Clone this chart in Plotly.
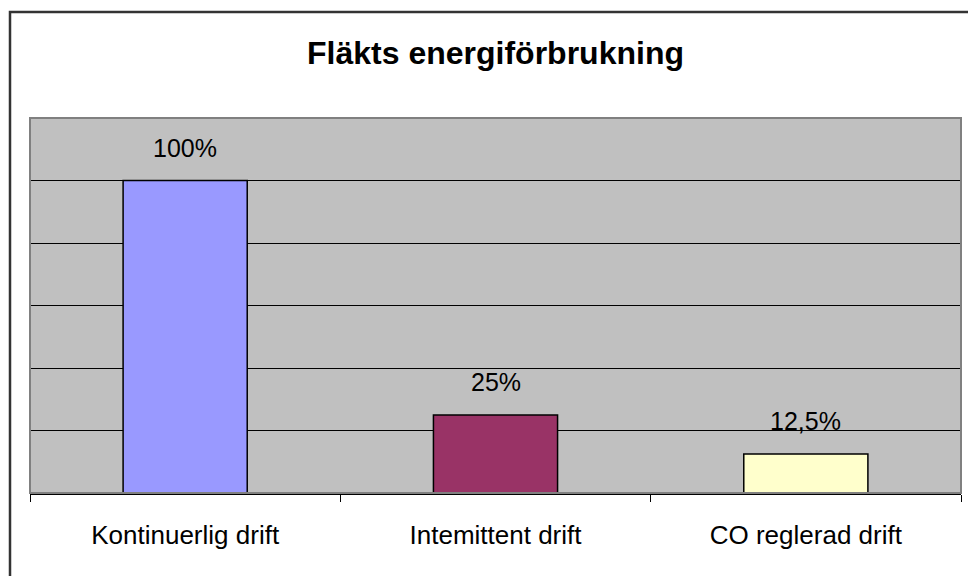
import plotly.graph_objects as go

categories = ["Kontinuerlig drift", "Intemittent drift", "CO reglerad drift"]
values = [100, 25, 12.5]
value_labels = ["100%", "25%", "12,5%"]
bar_colors = ["#9999FF", "#993366", "#FFFFCC"]
title_text = "Fläkts energiförbrukning"

FONT = "Liberation Sans, Arial, sans-serif"

fig = go.Figure()
fig.add_trace(go.Bar(
    x=categories, y=values,
    marker=dict(color=bar_colors, line=dict(color="black", width=1.5)),
    hoverinfo="skip",
))

for c, v, t in zip(categories, values, value_labels):
    fig.add_annotation(x=c, y=v, text=t, showarrow=False, xref="x", yref="y",
                       yanchor="bottom", yshift=17,
                       font=dict(family=FONT, size=25, color="black"))

# plot area border (gray)
fig.add_shape(type="rect", xref="paper", yref="paper", x0=0, x1=1, y0=0, y1=1,
              line=dict(color="#808080", width=2), layer="above")
# outer chart border (extends past canvas)
fig.add_shape(type="rect", xref="paper", yref="paper",
              x0=-20/931, x1=1.1, y0=-0.3, y1=1 + 106/375,
              line=dict(color="#333333", width=2.5), layer="above")

fig.update_layout(
    width=968, height=576,
    margin=dict(l=30, r=7, t=118, b=83),
    paper_bgcolor="white", plot_bgcolor="#C0C0C0",
    bargap=0.6, showlegend=False,
    font=dict(family=FONT, color="black"),
    title=dict(text="<b>" + title_text + "</b>", x=0.5, xref="paper", xanchor="center",
               y=1 - 53/576, yref="container", yanchor="middle",
               font=dict(family=FONT, size=32, color="black")),
    xaxis=dict(tickson="boundaries", ticks="outside", ticklen=7, tickcolor="black",
               showline=True, linecolor="black", linewidth=1.5,
               tickfont=dict(family=FONT, size=26, color="black"),
               ticklabelstandoff=18, showgrid=False, fixedrange=True),
    yaxis=dict(range=[0, 120], dtick=20, showgrid=True, gridcolor="black", gridwidth=1,
               showticklabels=False, ticks="", zeroline=False, showline=False,
               fixedrange=True),
)

fig.write_html("out.html", config={"displayModeBar": False})

# remove default page margin so the figure sits at the window origin
with open("out.html", "r", encoding="utf-8") as f:
    html = f.read()
html = html.replace("<body>", '<body style="margin:0;padding:0;overflow:hidden">', 1)
with open("out.html", "w", encoding="utf-8") as f:
    f.write(html)
